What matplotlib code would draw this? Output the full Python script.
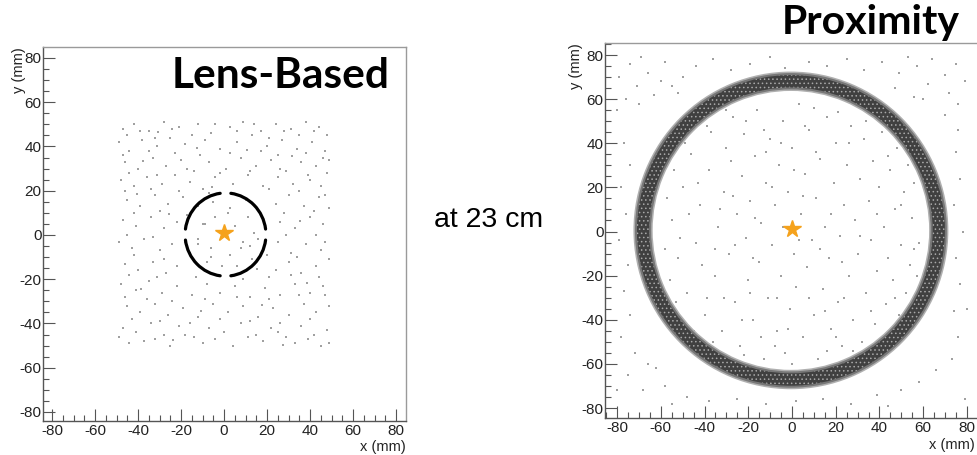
import numpy as np
import matplotlib
matplotlib.use("Agg")
import matplotlib.pyplot as plt
from matplotlib import patches
from matplotlib.ticker import MultipleLocator

# ---------------- data (mm) ----------------
tick_values = [-80, -60, -40, -20, 0, 20, 40, 60, 80]
source_pos = (0.0, 1.0)

# Lens-based: four ring arcs (gaps at 0, 90, 180, 270 deg)
lens_ring_center = (0.7, 0.2)
lens_ring_radius = 18.8
lens_arc_start = [7.6, 97.6, 187.6, 277.6]
lens_arc_end = [82.4, 172.4, 262.4, 352.4]

lens_noise = [
    (-47, 48), (-42, 50), (-35, 47), (-28, 51), (-21, 49), (-12, 50), (-6, 46), (3, 49), (9, 51), (17, 47),
    (24, 50), (31, 48), (38, 51), (44, 49), (48, 45), (-49, 42), (-44, 38), (-38, 43), (-31, 40), (-25, 44),
    (-18, 41), (-9, 43), (-2, 39), (6, 42), (13, 45), (20, 40), (27, 43), (34, 39), (41, 42), (47, 38),
    (-46, 33), (-40, 30), (-33, 35), (-27, 31), (-20, 34), (-14, 29), (-7, 33), (1, 30), (8, 35), (15, 31),
    (22, 34), (29, 29), (36, 33), (43, 31), (49, 34), (-48, 25), (-42, 22), (-36, 26), (-29, 23), (-23, 27),
    (-16, 24), (-10, 21), (-4, 26), (4, 23), (11, 27), (18, 22), (25, 26), (32, 23), (39, 27), (45, 22),
    (-45, 16), (-39, 13), (-32, 18), (-26, 14), (-19, 17), (-12, 13), (-5, 15), (3, 12), (10, 16), (24, 14),
    (30, 18), (37, 13), (44, 17), (49, 12), (-47, 7), (-41, 4), (-34, 8), (-28, 3), (-22, 6), (-9, 5),
    (-4, 8), (5, 4), (9, -3), (26, 6), (33, 3), (40, 8), (46, 5), (-49, -3), (-43, -6), (-37, -2),
    (-30, -7), (-24, -4), (-12, -2), (-6, -6), (3, -9), (12, -5), (25, -3), (31, -8), (38, -4), (45, -7),
    (-46, -13), (-40, -16), (-33, -12), (-27, -17), (-22, -14), (-8, -12), (6, -14), (13, -11), (24, -16), (30, -12),
    (36, -17), (43, -14), (49, -11), (-48, -22), (-41, -25), (-35, -21), (-29, -26), (-22, -23), (-15, -27), (-8, -22),
    (-2, -26), (5, -23), (12, -28), (19, -24), (26, -27), (33, -22), (40, -26), (46, -23), (-45, -32), (-39, -35),
    (-32, -31), (-26, -36), (-19, -33), (-12, -37), (-5, -31), (2, -35), (9, -32), (16, -37), (23, -33), (30, -36),
    (37, -31), (43, -35), (49, -32), (-47, -42), (-41, -44), (-34, -40), (-28, -45), (-21, -41), (-14, -46), (-7, -42),
    (0, -44), (8, -40), (15, -45), (22, -42), (29, -46), (36, -41), (42, -45), (48, -43), (-44, -49), (-37, -48),
    (-25, -50), (-10, -49), (4, -50), (18, -48), (33, -49), (45, -50), (-10, 5), (2, 10), (-6, -10), (8, -6),
    (-3, 2), (11, 8), (-45, 45), (-39, 47), (-32, 44), (-24, 48), (-15, 45), (-4, 50), (6, 47), (14, 50),
    (21, 44), (28, 47), (35, 45), (42, 47), (-47, 36), (-35, 38), (-23, 37), (-11, 36), (3, 37), (17, 38),
    (25, 36), (38, 37), (46, 35), (-44, 28), (-31, 27), (-17, 30), (-2, 28), (12, 29), (26, 30), (40, 25),
    (48, 28), (-46, 20), (-34, 21), (-21, 20), (-7, 19), (7, 18), (21, 21), (35, 20), (47, 18), (-42, 10),
    (-30, 11), (-17, 9), (-12, -4), (16, -2), (28, 10), (42, 11), (-45, 0), (-33, -1), (-18, -3), (-1, -14),
    (14, 1), (29, 0), (43, 0), (-42, -9), (-28, -11), (-16, -8), (20, -9), (34, -10), (47, -3), (-44, -18),
    (-31, -19), (-13, -19), (-3, -18), (9, -20), (21, -19), (31, -18), (44, -19), (-46, -28), (-36, -29), (-24, -30),
    (-9, -29), (6, -28), (21, -29), (35, -27), (47, -27), (-43, -38), (-30, -39), (-16, -40), (-2, -38), (12, -39),
    (26, -40), (40, -38), (-49, -46), (-32, -47), (-18, -45), (-4, -47), (11, -46), (25, -44), (39, -47), (49, -49),
    (-37.5, 33.5), (-12.5, 39.5), (10.5, 38.5), (31.5, 35.5), (-40.5, 18.5), (-25.5, 9.5), (35.5, 6.5), (-38.5, -24.5),
    (-10.5, -34.5), (17.5, -31.5), (38.5, -21.5), (-23.5, -47.5), (27.5, -49.5), (-5.5, 21.5), (15.5, -15.5), (-30.5, 46.5),
]

# Proximity: one broad ring band
prox_ring_center = (-0.5, 0.5)
prox_ring_inner = 63.6
prox_ring_outer = 71.6

prox_noise = [
    (-74, 76), (-66, 72), (-58, 77), (-50, 70), (-44, 75), (-36, 78), (-28, 73), (-19, 76), (-10, 79), (-3, 74),
    (8, 77), (16, 75), (25, 78), (33, 73), (41, 77), (49, 72), (57, 75), (64, 78), (70, 71), (75, 76),
    (-71, 66), (-63, 62), (-55, 66), (47, 65), (56, 61), (62, 67), (72, 63), (-76, 60), (76, 58), (-77, 40),
    (-74, 30), (-78, 20), (-76, 8), (-79, -4), (-75, -15), (-77, -27), (-74, -38), (-78, -48), (-72, -55), (-66, -60),
    (-75, -65), (-68, -72), (-58, -70), (-48, -75), (-38, -77), (-25, -76), (-12, -78), (2, -77), (14, -76), (27, -78),
    (39, -74), (50, -72), (58, -68), (66, -63), (73, -58), (76, -48), (74, -36), (77, -24), (75, -12), (78, 0),
    (74, 12), (77, 24), (75, 36), (76, 46), (70, 53), (-70, 58), (-60, 68), (-52, 63), (60, 60), (-62, -62),
    (-55, 5), (-52, -12), (-50, 20), (-48, -28), (-46, 35), (-44, -5), (-42, 12), (-40, -38), (-38, 28), (-37, 45),
    (-35, -20), (-34, 2), (-32, -45), (-31, 18), (-30, 38), (-29, -10), (-27, 52), (-26, -32), (-25, 8), (-24, -52),
    (-23, 25), (-22, 44), (-21, -3), (-20, -22), (-19, 14), (-18, -40), (-17, 34), (-16, 55), (-15, -14), (-14, 4),
    (-13, -58), (-12, 22), (-11, -30), (-10, 42), (-9, -6), (-8, 12), (-7, -45), (-6, 30), (-5, -20), (-4, 50),
    (-3, -55), (-2, 18), (-1, -35), (0, 38), (1, -10), (2, -25), (3, 58), (4, 8), (5, -48), (6, 26),
    (7, -16), (8, 46), (9, -4), (10, -38), (11, 15), (12, -58), (13, 33), (14, -26), (15, 2), (16, 52),
    (17, -12), (18, -44), (19, 22), (20, 40), (21, -32), (22, -2), (23, -52), (24, 12), (25, 30), (26, -20),
    (27, 48), (28, -40), (29, 5), (30, -10), (31, 24), (32, -50), (33, 42), (34, -28), (35, 14), (36, -4),
    (37, 32), (38, -42), (39, -18), (40, 20), (41, 45), (42, 2), (43, -33), (44, -12), (45, 28), (46, -22),
    (47, 10), (48, 38), (49, -38), (50, -6), (51, 18), (52, -28), (53, 30), (54, -15), (55, 6), (56, 22),
    (57, -20), (58, -5), (-57, 15), (-56, -22), (-54, 28), (-53, -32), (-51, -3), (-49, 40), (-47, 8), (-45, -45),
    (-43, 22), (-41, -15), (-39, 48), (-36, -50), (-33, 10), (-31, -30), (-28, 32), (-26, -6), (-23, -40), (-21, 50),
    (-19, -28), (-17, 6), (-14, -48), (-12, 36), (-9, 20), (-7, -30), (-4, 2), (-2, -44), (1, 28), (3, -4),
    (6, 48), (8, -30), (11, 36), (13, -8), (16, -54), (18, 8), (21, 54), (23, -14), (26, 40), (28, -54),
    (31, -2), (34, 50), (36, -36), (39, 8), (42, -50), (44, 34), (47, -30), (50, 12), (53, -40), (56, -8),
    (-58, -8), (-55, 38), (-50, -40), (-44, 48), (-39, -30), (-35, -8), (-30, 55), (-27, 16), (-22, -56), (-18, -12),
    (-13, 46), (-8, -52), (-5, 40), (0, -60), (5, 16), (10, 56), (15, -36), (20, -48), (24, -30), (-60, 30),
    (-79, 70), (-69, 79), (53, 79), (79, 68), (-80, -72), (-55, -78), (44, -79), (79, -76), (-80, 55), (80, -35),
]

panel_titles = ["Lens-Based", "Proximity"]
middle_text = "at 23 cm"

# ---------------- style ----------------
W, H = 977, 455
fig = plt.figure(figsize=(W / 100, H / 100), dpi=100)
plt.rcParams['font.family'] = ['Liberation Sans', 'DejaVu Sans']
plt.rcParams['hatch.linewidth'] = 0.6

STAR = '#F5A21C'
NOISE = '#a0a0a0'


def px_axes(x0, y0, x1, y1):
    return fig.add_axes([x0 / W, 1 - y1 / H, (x1 - x0) / W, (y1 - y0) / H])


def style_axes(ax, xlim, ylim, ylab_x):
    ax.set_xlim(*xlim)
    ax.set_ylim(*ylim)
    ax.xaxis.set_minor_locator(MultipleLocator(5))
    ax.yaxis.set_minor_locator(MultipleLocator(5))
    ax.set_xticks(tick_values)
    ax.set_yticks(tick_values)
    ax.set_xticklabels([str(v) for v in tick_values])
    ax.set_yticklabels([str(v) for v in tick_values])
    ax.tick_params(which='major', direction='in', length=8.5, width=0.8, color='#555555',
                   labelsize=11, labelcolor='#222222')
    ax.tick_params(which='minor', direction='in', length=4.3, width=0.8, color='#555555')
    ax.tick_params(axis='x', pad=2)
    ax.tick_params(axis='y', pad=1)
    ax.tick_params(top=False, right=False, which='both')
    for side in ['top', 'right']:
        ax.spines[side].set_color('#9a9a9a')
        ax.spines[side].set_linewidth(1.0)
    for side in ['left', 'bottom']:
        ax.spines[side].set_color('#555555')
        ax.spines[side].set_linewidth(1.0)
    ax.text(ylab_x, 1.0, 'y (mm)', transform=ax.transAxes, rotation=90,
            ha='center', va='top', fontsize=10.5, color='#222222')


# ---- left panel ----
ax1 = px_axes(43, 47, 406, 421)
style_axes(ax1, (-84.2, 84.65), (-84.07, 84.97), -0.066)
lx = [p[0] for p in lens_noise]
ly = [p[1] for p in lens_noise]
ax1.scatter(lx, ly, s=1.0, marker='s', c=NOISE, linewidths=0)
for t1, t2 in zip(lens_arc_start, lens_arc_end):
    ax1.add_patch(patches.Arc(lens_ring_center, 2 * lens_ring_radius, 2 * lens_ring_radius,
                              theta1=t1, theta2=t2, lw=2.3, color='black', capstyle='round'))
ax1.plot([source_pos[0]], [source_pos[1]], marker='*', ms=13, color=STAR, mec=STAR, ls='none')
ax1.text((390 - 43) / 363, (421 - 88) / 374, panel_titles[0], transform=ax1.transAxes,
         ha='right', va='baseline', fontsize=30.5, fontweight='bold',
         family=['Lato', 'DejaVu Sans'], color='black')
fig.text(406 / W, 1 - 447 / H, 'x (mm)', ha='right', va='center',
         fontsize=10.5, color='#222222')

# ---- right panel ----
ax2 = px_axes(605, 43, 979, 418)
style_axes(ax2, (-85.5, 85.5), (-84.53, 85.44), -0.078)
px_ = [p[0] for p in prox_noise]
py_ = [p[1] for p in prox_noise]
ax2.scatter(px_, py_, s=1.0, marker='s', c=NOISE, linewidths=0)
width_r = prox_ring_outer - prox_ring_inner
ax2.add_patch(patches.Annulus(prox_ring_center, prox_ring_outer + 0.4, width_r + 0.8,
                              facecolor='#b0b0b0', edgecolor='none'))
ax2.add_patch(patches.Annulus(prox_ring_center, prox_ring_outer - 0.3, width_r - 0.6,
                              facecolor='#777777', edgecolor='none'))
ax2.add_patch(patches.Annulus(prox_ring_center, prox_ring_outer - 1.2, width_r - 2.4,
                              facecolor='#404040', edgecolor='#a8a8a8', linewidth=0, hatch='....'))
ax2.plot([source_pos[0]], [source_pos[1]], marker='*', ms=13, color=STAR, mec=STAR, ls='none')
fig.text(975 / W, 1 - 445 / H, 'x (mm)', ha='right', va='center',
         fontsize=10.5, color='#222222')

fig.text(960 / W, 1 - 34 / H, panel_titles[1], ha='right', va='baseline',
         fontsize=29.5, fontweight='bold', family=['Lato', 'DejaVu Sans'], color='black')
fig.text(489 / W, 1 - 227 / H, middle_text, ha='center', va='baseline',
         fontsize=20.5, color='black')

fig.savefig('out.png', dpi=100)
